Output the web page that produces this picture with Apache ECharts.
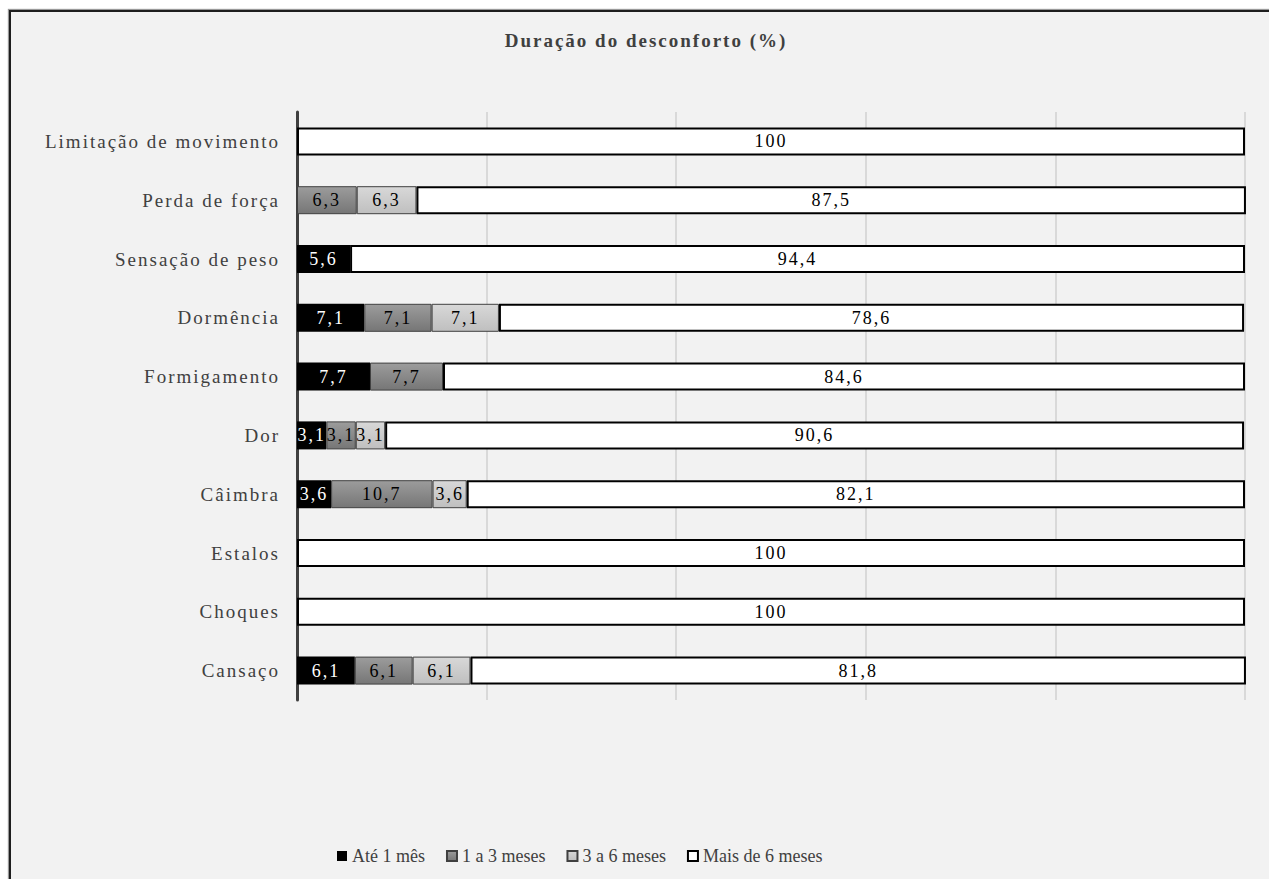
<!DOCTYPE html>
<html>
<head>
<meta charset="utf-8">
<script src="https://cdn.jsdelivr.net/npm/echarts@6/dist/echarts.min.js"></script>
<style>
html,body{margin:0;padding:0;background:#fff;width:1269px;height:879px;overflow:hidden;}
#frame{position:absolute;left:9px;top:10px;width:1270px;height:880px;background:#f2f2f2;border-left:2px solid #1e1e1e;border-top:2px solid #1e1e1e;box-shadow:-1px -1px 1px #999;}
#chart{position:absolute;left:0;top:0;width:1269px;height:879px;}
#chart text[style*="Tinos"]{letter-spacing:2px;}
</style>
</head>
<body>
<div id="frame"></div>
<div id="chart"></div>
<script>
const categories = ['Limitação de movimento','Perda de força','Sensação de peso','Dormência','Formigamento','Dor','Câimbra','Estalos','Choques','Cansaço'];
const seriesNames = ['Até 1 mês','1 a 3 meses','3 a 6 meses','Mais de 6 meses'];
const ate1mes   = [null, null, 5.6, 7.1, 7.7, 3.1, 3.6, null, null, 6.1];
const de1a3     = [null, 6.3, null, 7.1, 7.7, 3.1, 10.7, null, null, 6.1];
const de3a6     = [null, 6.3, null, 7.1, null, 3.1, 3.6, null, null, 6.1];
const mais6     = [100, 87.5, 94.4, 78.6, 84.6, 90.6, 82.1, 100, 100, 81.8];
const xTicks = [0, 20, 40, 60, 80, 100];

const FONT_SPACED = '"Liberation Serif", Tinos, serif';
const FONT_PLAIN = '"Liberation Serif", serif';
const fmt = p => (p.value == null ? '' : String(p.value).replace('.', ','));

function grad(c1, c2){
  return new echarts.graphic.LinearGradient(0,0,0,1,[{offset:0,color:c1},{offset:1,color:c2}]);
}
const styles = [
  {color:'#000000', borderColor:'#000000', borderWidth:0, label:'#ffffff'},
  {color:grad('#9c9c9c','#767676'), borderColor:'#404040', borderWidth:1, label:'#000000'},
  {color:grad('#d8d8d8','#bfbfbf'), borderColor:'#404040', borderWidth:1, label:'#000000'},
  {color:'#ffffff', borderColor:'#000000', borderWidth:2, label:'#000000'}
];
const dataSets = [ate1mes, de1a3, de3a6, mais6];

const chart = echarts.init(document.getElementById('chart'), null, {renderer:'svg'});
chart.setOption({
  backgroundColor:'transparent',
  animation:false,
  title:{
    text:'Duração do desconforto (%)',
    left:641, top:26, textAlign:'center',
    textStyle:{fontFamily:FONT_SPACED, fontWeight:'bold', fontSize:19, color:'#404040'}
  },
  legend:{
    left:332, top:842,
    itemWidth:10, itemHeight:10, itemGap:21,
    icon:'rect',
    textStyle:{fontFamily:FONT_PLAIN, fontSize:18, color:'#404040'},
    data:seriesNames
  },
  grid:{left:297, right:24, top:112, bottom:179, containLabel:false},
  xAxis:{
    type:'value', min:xTicks[0], max:xTicks[xTicks.length-1], interval:20,
    axisLine:{show:false}, axisTick:{show:false}, axisLabel:{show:false},
    splitLine:{show:true, lineStyle:{color:'#d9d9d9', width:2}}
  },
  yAxis:{
    type:'category', inverse:true, data:categories,
    axisLine:{show:true, lineStyle:{color:'#404040', width:3}},
    axisTick:{show:false},
    axisLabel:{fontFamily:FONT_SPACED, fontSize:19, color:'#404040', margin:17},
    splitLine:{show:false}
  },
  series: seriesNames.map((name, i) => ({
    name, type:'bar', stack:'total', barWidth:28,
    data: dataSets[i],
    itemStyle:{color:styles[i].color, borderColor:styles[i].borderColor, borderWidth:styles[i].borderWidth},
    label:{show:true, position:'inside', formatter:fmt, fontFamily:FONT_SPACED, fontSize:18, color:styles[i].label},
    emphasis:{disabled:true}
  }))
});
</script>
</body>
</html>
